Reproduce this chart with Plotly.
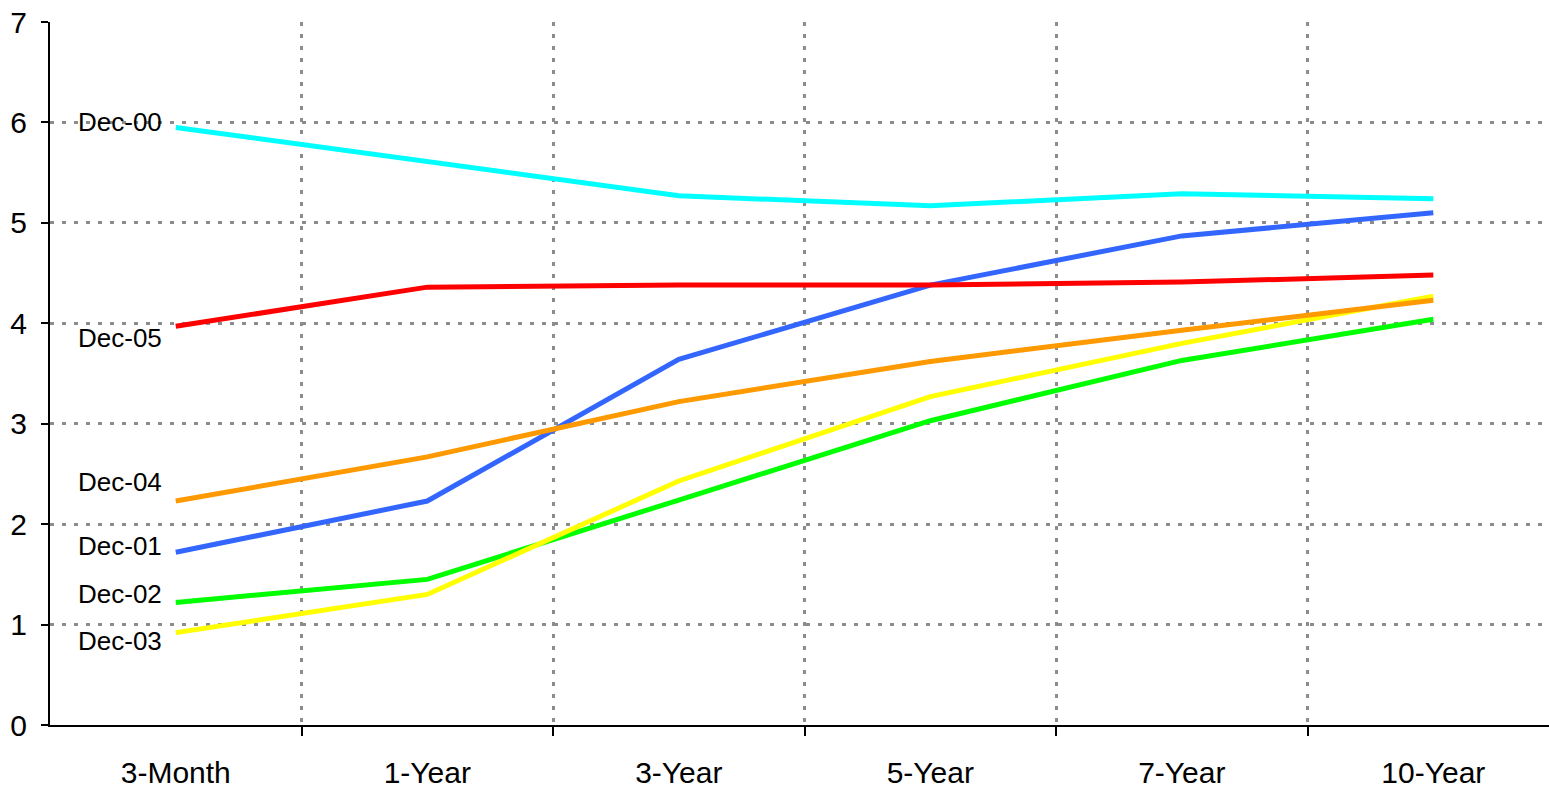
import plotly.graph_objects as go

# Treasury yield curves at each year end (%)
maturities = ["3-Month", "1-Year", "3-Year", "5-Year", "7-Year", "10-Year"]
series_names = ["Dec-00", "Dec-01", "Dec-02", "Dec-03", "Dec-04", "Dec-05"]
dec00 = [5.95, 5.61, 5.27, 5.17, 5.29, 5.24]
dec01 = [1.72, 2.23, 3.64, 4.38, 4.87, 5.10]
dec02 = [1.22, 1.45, 2.24, 3.03, 3.63, 4.04]
dec03 = [0.92, 1.30, 2.43, 3.27, 3.80, 4.27]
dec04 = [2.23, 2.67, 3.22, 3.62, 3.93, 4.23]
dec05 = [3.97, 4.36, 4.38, 4.38, 4.41, 4.48]
series_values = [dec00, dec01, dec02, dec03, dec04, dec05]
series_colors = ["#00FFFF", "#3366FF", "#00FF00", "#FFFF00", "#FF9900", "#FF0000"]

# vertical position of each curve's name beside the 3-month point
label_y = [6.0, 1.78, 1.30, 0.84, 2.42, 3.85]
y_ticks = [0, 1, 2, 3, 4, 5, 6, 7]

x_pos = list(range(len(maturities)))
boundaries = [i + 0.5 for i in range(len(maturities) - 1)]

fig = go.Figure()
for name, vals, col in zip(series_names, series_values, series_colors):
    fig.add_trace(go.Scatter(
        x=x_pos, y=vals, mode="lines", name=name,
        line=dict(color=col, width=5),
        showlegend=False,
    ))

for name, ly in zip(series_names, label_y):
    fig.add_annotation(
        x=-0.045, y=ly, xref="x", yref="y",
        text=name, showarrow=False, xanchor="right", yanchor="middle",
        font=dict(family="Liberation Sans, Arial, sans-serif", size=26, color="black"),
    )

grid_color = "#8C8C8C"
fig.update_layout(
    width=1549, height=788,
    margin=dict(l=50, r=0, t=22, b=63),
    plot_bgcolor="white", paper_bgcolor="white",
    font=dict(family="Liberation Sans, Arial, sans-serif", color="black"),
    xaxis=dict(
        range=[-0.5, 5.46],
        tickvals=x_pos, ticktext=maturities,
        ticks="outside", ticklen=20, tickcolor="rgba(0,0,0,0)",
        tickfont=dict(size=30),
        showgrid=False, zeroline=False,
        showline=True, linecolor="black", linewidth=2,
        minor=dict(
            tickvals=boundaries, ticks="outside", ticklen=9, tickwidth=1.5,
            tickcolor="black", showgrid=True, gridcolor=grid_color,
            gridwidth=2.5, griddash="4px,8px",
        ),
    ),
    yaxis=dict(
        range=[0, 7], tickvals=y_ticks,
        ticks="outside", ticklen=7, tickwidth=2, tickcolor="black",
        tickfont=dict(size=30), ticklabelstandoff=8,
        showgrid=True, gridcolor=grid_color, gridwidth=3, griddash="4px,8px",
        zeroline=False, showline=True, linecolor="black", linewidth=2,
    ),
)

fig.write_html("out.html")
